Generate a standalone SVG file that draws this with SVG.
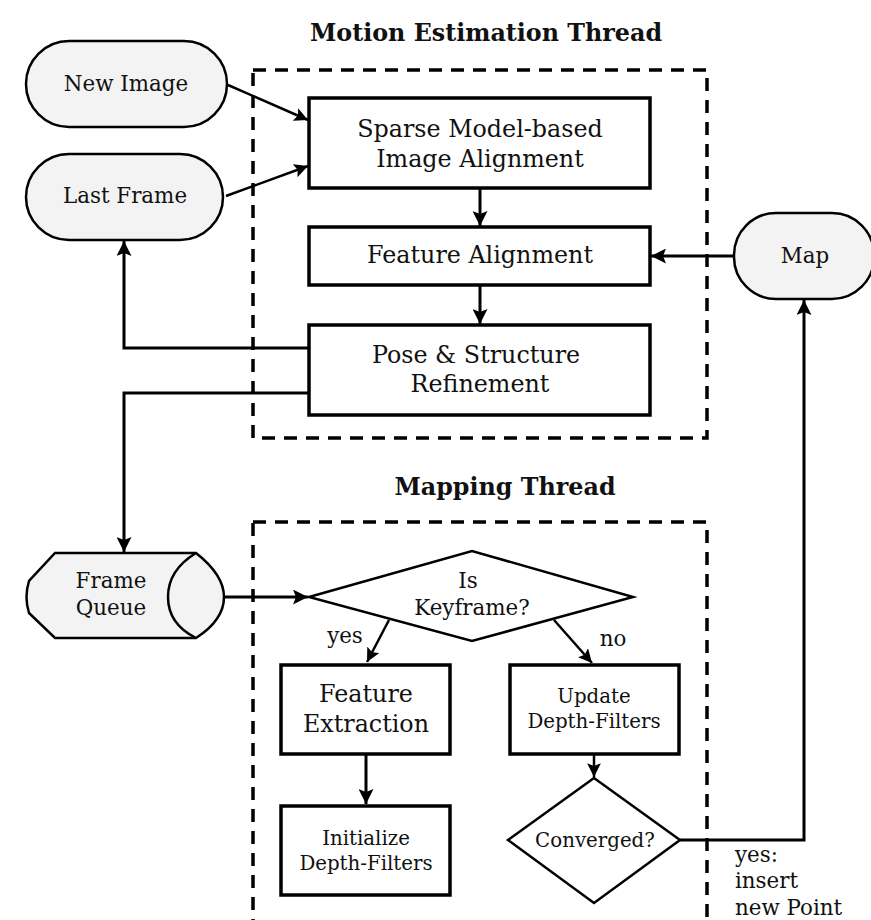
<svg xmlns="http://www.w3.org/2000/svg" width="871" height="920" viewBox="0 0 871 920">
<style>
text{font-family:"DejaVu Serif","Liberation Serif",serif;fill:#111;text-anchor:middle}
.t{font-weight:bold;font-size:23.8px}
.term{fill:#f3f3f3;stroke:#000;stroke-width:2.5}
.box{fill:#fff;stroke:#000;stroke-width:3.5}
.dia{fill:#fff;stroke:#000;stroke-width:2.5}
.dash{fill:none;stroke:#000;stroke-width:3.5;stroke-dasharray:13 9}
.c{fill:none;stroke:#000;stroke-width:3}
.c2{fill:none;stroke:#000;stroke-width:2.5}
.f17{font-size:19.8px}.f19{font-size:21.4px}.f21{font-size:23.8px}
</style>
<defs>
<marker id="ah" viewBox="0 0 10 10" refX="10" refY="5" markerWidth="5" markerHeight="5" orient="auto" markerUnits="strokeWidth"><path d="M0,0 L10,5 L0,10 L2,5 z" fill="#000"/></marker>
<marker id="ah2" viewBox="0 0 10 10" refX="10" refY="5" markerWidth="5.5" markerHeight="5.5" orient="auto" markerUnits="strokeWidth"><path d="M0,0 L10,5 L0,10 L2,5 z" fill="#000"/></marker>
</defs>
<g id="titles">
<text class="t" x="486" y="41">Motion Estimation Thread</text>
<text class="t" x="505" y="495">Mapping Thread</text>
</g>
<g id="threads">
<rect class="dash" x="253" y="70" width="454" height="368"/>
<rect class="dash" x="253" y="522" width="454" height="400"/>
</g>
<g id="connectors">
<line class="c2" x1="228" y1="85" x2="308" y2="120" marker-end="url(#ah2)"/>
<line class="c2" x1="226" y1="196" x2="308" y2="166" marker-end="url(#ah2)"/>
<line class="c" x1="480" y1="188" x2="480" y2="226" marker-end="url(#ah)"/>
<line class="c" x1="734" y1="256" x2="651" y2="256" marker-end="url(#ah)"/>
<line class="c" x1="480" y1="285" x2="480" y2="324" marker-end="url(#ah)"/>
<polyline class="c" points="309,348 124,348 124,241" marker-end="url(#ah)"/>
<polyline class="c" points="309,393 124,393 124,552" marker-end="url(#ah)"/>
<line class="c" x1="224" y1="597" x2="308" y2="597" marker-end="url(#ah)"/>
<line class="c2" x1="389" y1="620" x2="367" y2="662" marker-end="url(#ah2)"/>
<line class="c2" x1="554" y1="620" x2="592" y2="663" marker-end="url(#ah2)"/>
<line class="c" x1="366" y1="755" x2="366" y2="804" marker-end="url(#ah)"/>
<line class="c2" x1="594" y1="755" x2="594" y2="777" marker-end="url(#ah2)"/>
<polyline class="c" points="680,840 804,840 804,300" marker-end="url(#ah)"/>
</g>
<g id="labels">
<text class="f19" x="345" y="643">yes</text>
<text class="f19" x="613" y="646">no</text>
<text class="f19" x="735" y="862" style="text-anchor:start">yes:</text>
<text class="f19" x="735" y="888" style="text-anchor:start">insert</text>
<text class="f19" x="735" y="915" style="text-anchor:start">new Point</text>
</g>
<g id="new-image">
<rect class="term" x="26" y="41" width="201" height="86" rx="43"/>
<text class="f19" x="126" y="91">New Image</text>
</g>
<g id="last-frame">
<rect class="term" x="26" y="154" width="197" height="86" rx="43"/>
<text class="f19" x="125" y="203">Last Frame</text>
</g>
<g id="map">
<rect class="term" x="734" y="213" width="140" height="86" rx="42"/>
<text class="f19" x="805" y="263">Map</text>
</g>
<g id="sparse">
<rect class="box" x="309" y="98" width="341" height="90"/>
<text class="f21" x="480" y="137">Sparse Model-based</text>
<text class="f21" x="480" y="167">Image Alignment</text>
</g>
<g id="feature-alignment">
<rect class="box" x="309" y="227" width="341" height="58"/>
<text class="f21" x="480" y="263">Feature Alignment</text>
</g>
<g id="pose">
<rect class="box" x="309" y="325" width="341" height="90"/>
<text class="f21" x="476" y="363">Pose &amp; Structure</text>
<text class="f21" x="480" y="392">Refinement</text>
</g>
<g id="frame-queue">
<path class="term" d="M55,553 L196,553 Q224,575 224,597 Q224,620 196,638 L55,638 L29,613 Q24,597 29,581 Z"/>
<path class="term" d="M196,553 Q168,570 168,597 Q168,624 196,638" fill="none"/>
<text class="f19" x="111" y="588">Frame</text>
<text class="f19" x="111" y="615">Queue</text>
</g>
<g id="is-keyframe">
<polygon class="dia" points="309,597 472,551 633,597 472,641"/>
<text class="f19" x="468" y="588">Is</text>
<text class="f19" x="472" y="615">Keyframe?</text>
</g>
<g id="feature-extraction">
<rect class="box" x="281" y="665" width="169" height="89"/>
<text class="f21" x="366" y="702">Feature</text>
<text class="f21" x="366" y="732">Extraction</text>
</g>
<g id="initialize">
<rect class="box" x="281" y="806" width="169" height="89"/>
<text class="f17" x="366" y="845">Initialize</text>
<text class="f17" x="366" y="870">Depth-Filters</text>
</g>
<g id="update">
<rect class="box" x="510" y="665" width="169" height="89"/>
<text class="f17" x="594" y="703">Update</text>
<text class="f17" x="594" y="728">Depth-Filters</text>
</g>
<g id="converged">
<polygon class="dia" points="508,840 594,778 680,840 594,903"/>
<text class="f17" x="595" y="847">Converged?</text>
</g>
</svg>
